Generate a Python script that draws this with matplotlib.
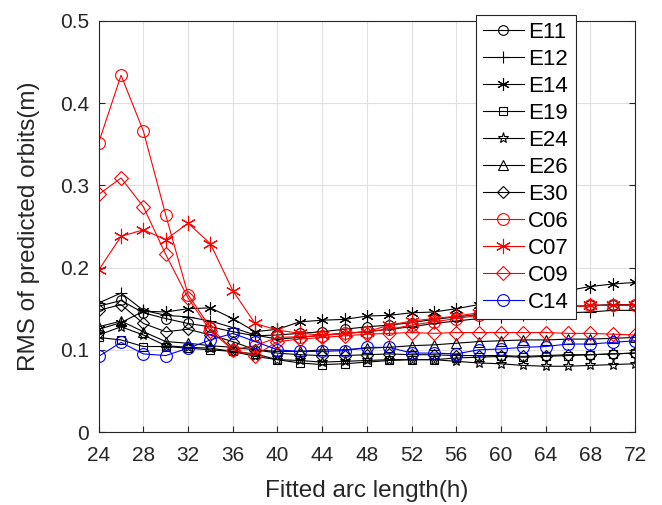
import matplotlib
matplotlib.use('Agg')
import matplotlib.pyplot as plt
import numpy as np

plt.rcParams['font.family'] = ['Liberation Sans', 'DejaVu Sans']

# fitted arc length (h)
arc_len = list(range(24, 73, 2))

# RMS of predicted orbits (m)
E11 = [0.153, 0.160, 0.145, 0.138, 0.132, 0.128, 0.122, 0.117, 0.118, 0.120, 0.122, 0.125, 0.128,
       0.130, 0.133, 0.137, 0.140, 0.143, 0.146, 0.148, 0.150, 0.152, 0.154, 0.155, 0.155]
E12 = [0.157, 0.169, 0.148, 0.142, 0.140, 0.135, 0.127, 0.118, 0.113, 0.115, 0.118, 0.120, 0.122,
       0.125, 0.128, 0.132, 0.135, 0.138, 0.140, 0.142, 0.144, 0.145, 0.146, 0.148, 0.148]
E14 = [0.125, 0.133, 0.147, 0.146, 0.150, 0.151, 0.138, 0.122, 0.125, 0.134, 0.136, 0.137, 0.141,
       0.142, 0.145, 0.146, 0.150, 0.155, 0.160, 0.165, 0.168, 0.172, 0.177, 0.180, 0.182]
E19 = [0.115, 0.112, 0.104, 0.104, 0.102, 0.100, 0.098, 0.095, 0.088, 0.084, 0.082, 0.083, 0.085,
       0.087, 0.088, 0.088, 0.090, 0.091, 0.092, 0.091, 0.092, 0.093, 0.094, 0.095, 0.096]
E24 = [0.118, 0.128, 0.118, 0.105, 0.103, 0.102, 0.098, 0.092, 0.088, 0.087, 0.085, 0.086, 0.087,
       0.088, 0.088, 0.088, 0.086, 0.084, 0.083, 0.081, 0.080, 0.080, 0.081, 0.082, 0.083]
E26 = [0.128, 0.135, 0.122, 0.110, 0.108, 0.105, 0.103, 0.100, 0.098, 0.098, 0.100, 0.100, 0.102,
       0.103, 0.105, 0.106, 0.108, 0.110, 0.111, 0.112, 0.112, 0.113, 0.113, 0.114, 0.115]
E30 = [0.148, 0.155, 0.132, 0.122, 0.125, 0.118, 0.110, 0.100, 0.096, 0.094, 0.093, 0.093, 0.094,
       0.095, 0.094, 0.094, 0.093, 0.093, 0.093, 0.092, 0.093, 0.094, 0.094, 0.095, 0.096]
C06 = [0.352, 0.434, 0.366, 0.264, 0.167, 0.127, 0.100, 0.105, 0.115, 0.116, 0.117, 0.120, 0.122,
       0.125, 0.130, 0.134, 0.138, 0.142, 0.145, 0.148, 0.150, 0.152, 0.154, 0.154, 0.155]
C07 = [0.197, 0.238, 0.246, 0.234, 0.254, 0.229, 0.172, 0.132, 0.124, 0.120, 0.118, 0.120, 0.122,
       0.130, 0.135, 0.138, 0.141, 0.145, 0.148, 0.150, 0.152, 0.153, 0.154, 0.154, 0.154]
C09 = [0.289, 0.309, 0.274, 0.216, 0.163, 0.123, 0.100, 0.093, 0.110, 0.113, 0.115, 0.117, 0.119,
       0.120, 0.121, 0.120, 0.121, 0.121, 0.121, 0.121, 0.121, 0.120, 0.120, 0.119, 0.118]
C14 = [0.092, 0.109, 0.095, 0.093, 0.102, 0.112, 0.120, 0.110, 0.100, 0.098, 0.098, 0.099, 0.103,
       0.103, 0.096, 0.096, 0.095, 0.100, 0.101, 0.103, 0.104, 0.107, 0.107, 0.109, 0.111]

names = ['E11', 'E12', 'E14', 'E19', 'E24', 'E26', 'E30', 'C06', 'C07', 'C09', 'C14']
series = [E11, E12, E14, E19, E24, E26, E30, C06, C07, C09, C14]
markers = ['o', '+', (6, 2, 0), 's', '*', '^', 'D', 'o', (6, 2, 0), 'D', 'o']
colors = ['k'] * 7 + ['r', 'r', 'r', 'b']
msizes = [7, 9, 9, 5.5, 8, 7.5, 6, 8.5, 11, 7, 8.5]

axcol = '#262626'

fig = plt.figure(figsize=(6.62, 5.05), dpi=100)
ax = fig.add_axes([98.7 / 662, 73 / 505, (635 - 98.7) / 662, (432 - 21) / 505])

for name, y, m, c, ms in zip(names, series, markers, colors, msizes):
    ax.plot(arc_len, y, color=c, marker=m, markersize=ms, markerfacecolor='none',
            markeredgecolor=c, markeredgewidth=0.8, linewidth=0.8, label=name)

ax.set_xlim(24, 72)
ax.set_ylim(0, 0.5)
ax.set_xticks(range(24, 73, 4))
ax.set_yticks([0, 0.1, 0.2, 0.3, 0.4, 0.5])
ax.set_yticklabels(['0', '0.1', '0.2', '0.3', '0.4', '0.5'])
ax.grid(True, color='#e0e0e0', linewidth=0.8)
ax.set_axisbelow(True)
ax.tick_params(direction='in', top=False, right=True, labelsize=15, colors=axcol,
               length=4, width=0.8)
ax.tick_params(axis='x', pad=10)
ax.tick_params(axis='y', pad=7)
for sp in ax.spines.values():
    sp.set_color(axcol)
    sp.set_linewidth(0.8)

ax.set_xlabel('Fitted arc length(h)', fontsize=17.5, color=axcol, labelpad=11)
ax.set_ylabel('RMS of predicted orbits(m)', fontsize=17.5, color=axcol, labelpad=14)

leg = ax.legend(loc='upper left', bbox_to_anchor=(476 / 662, 1 - 15 / 505),
                bbox_transform=fig.transFigure, borderaxespad=0, fontsize=16,
                fancybox=False, framealpha=1, edgecolor=axcol, labelspacing=0.27,
                handlelength=1.85, handletextpad=0.2, borderpad=0.3)
leg.get_frame().set_linewidth(0.8)

fig.savefig('out.png', dpi=100)
